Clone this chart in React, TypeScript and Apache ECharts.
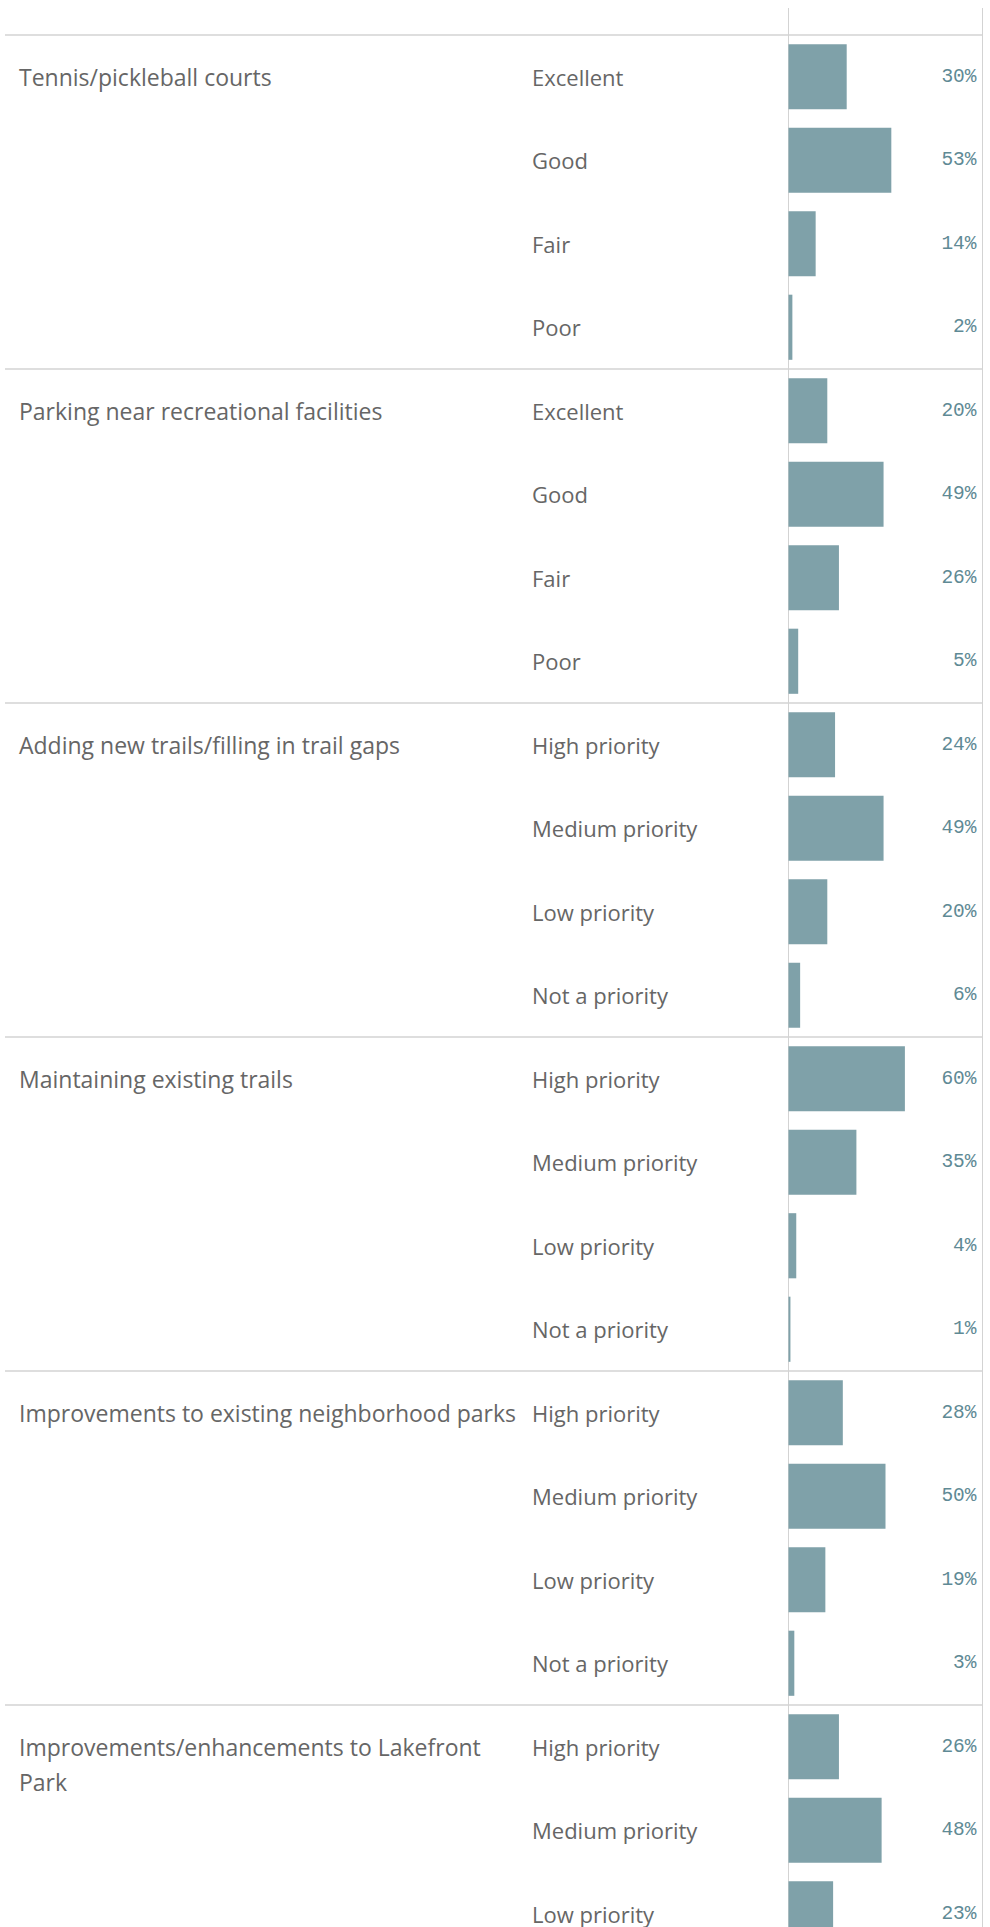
import React, { useEffect, useRef } from "react";
import * as echarts from "echarts";

// ---- data ----
const GROUPS = [
  "Tennis/pickleball courts",
  "Parking near recreational facilities",
  "Adding new trails/filling in trail gaps",
  "Maintaining existing trails",
  "Improvements to existing neighborhood parks",
  "Improvements/enhancements to Lakefront Park",
];
const RATING_LEVELS = ["Excellent", "Good", "Fair", "Poor"];
const PRIORITY_LEVELS = ["High priority", "Medium priority", "Low priority", "Not a priority"];

const TENNIS_VALUES = [30, 53, 14, 2];
const PARKING_VALUES = [20, 49, 26, 5];
const NEW_TRAILS_VALUES = [24, 49, 20, 6];
const MAINTAIN_TRAILS_VALUES = [60, 35, 4, 1];
const NEIGHBORHOOD_PARKS_VALUES = [28, 50, 19, 3];
const LAKEFRONT_PARK_VALUES = [26, 48, 23]; // remaining row is below the visible page

const GROUP_LEVELS = [RATING_LEVELS, RATING_LEVELS, PRIORITY_LEVELS, PRIORITY_LEVELS, PRIORITY_LEVELS, PRIORITY_LEVELS];
const GROUP_VALUES = [
  TENNIS_VALUES,
  PARKING_VALUES,
  NEW_TRAILS_VALUES,
  MAINTAIN_TRAILS_VALUES,
  NEIGHBORHOOD_PARKS_VALUES,
  LAKEFRONT_PARK_VALUES,
];

// ---- layout ----
const W = 990;
const TOP = 35;
const ROW_H = 83.5;
const BAR_LEFT = 788.5;
const RIGHT_EDGE = 982.5;
const TABLE_LEFT = 5;
const GROUP_LABEL_X = 19;
const SUB_LABEL_X = 532;
const HEADER_TOP = 8;
const LINE_COLOR = "#d3d3d3";
const TEXT_COLOR = "#666666";
const BAR_COLOR = "#7fa1a9";
const PCT_COLOR = "#5f8a95";
const FONT = "'Open Sans', sans-serif";
const MONO = "'Liberation Mono', monospace";
const GROUP_FONT_SIZE = 23;
const SUB_FONT_SIZE = 22;
const LINE_H = 35;

type Row = { id: string; group: number; level: string; value: number; first: boolean };
const ROWS: Row[] = [];
GROUP_VALUES.forEach((vals, gi) => {
  vals.forEach((v, j) => {
    ROWS.push({ id: `${gi}-${j}`, group: gi, level: GROUP_LEVELS[gi][j], value: v, first: j === 0 });
  });
});
const GROUP_START = ROWS.map((r, i) => (r.first ? i : -1)).filter((i) => i >= 0);
const GRID_H = ROWS.length * ROW_H;
const CHART_H = Math.ceil(TOP + GRID_H + 5);
const GRID_BOTTOM = CHART_H - TOP - GRID_H;

export default function App() {
  const ref = useRef<HTMLDivElement>(null);
  useEffect(() => {
    if (!ref.current) return;
    const chart = echarts.init(ref.current, null, { renderer: "svg" });
    const rowIds = ROWS.map((r) => r.id);
    const startSet = new Set(GROUP_START);
    chart.setOption({
      animation: false,
      backgroundColor: "#ffffff",
      grid: [
        { left: TABLE_LEFT, right: W - RIGHT_EDGE, top: TOP, bottom: GRID_BOTTOM },
        { left: BAR_LEFT, right: W - RIGHT_EDGE, top: TOP, bottom: GRID_BOTTOM },
      ],
      xAxis: [
        { gridIndex: 0, type: "value", show: false, min: 0, max: 1 },
        { gridIndex: 1, type: "value", show: false, min: 0, max: 100 },
      ],
      yAxis: [
        {
          gridIndex: 0,
          type: "category",
          inverse: true,
          data: rowIds,
          axisLine: { show: false },
          axisTick: { show: false },
          axisLabel: { show: false },
          splitLine: {
            show: true,
            interval: (i: number) => startSet.has(i),
            lineStyle: { color: LINE_COLOR, width: 1.5 },
          },
        },
        {
          gridIndex: 1,
          type: "category",
          inverse: true,
          data: rowIds,
          axisLine: { show: true, onZero: false, lineStyle: { color: LINE_COLOR, width: 1 } },
          axisTick: { show: false },
          splitLine: { show: false },
          axisLabel: {
            interval: 0,
            align: "left",
            margin: BAR_LEFT - SUB_LABEL_X,
            fontFamily: FONT,
            fontSize: SUB_FONT_SIZE,
            color: TEXT_COLOR,
            formatter: (_v: string, i: number) => ROWS[i].level,
          },
        },
        {
          gridIndex: 1,
          type: "category",
          position: "right",
          inverse: true,
          data: rowIds,
          axisLine: { show: true, onZero: false, lineStyle: { color: LINE_COLOR, width: 1 } },
          axisTick: { show: false },
          splitLine: { show: false },
          axisLabel: {
            interval: 0,
            inside: true,
            margin: 6,
            fontFamily: MONO,
            fontSize: 19.5,
            color: PCT_COLOR,
            padding: [2, 0, 0, 0],
            formatter: (_v: string, i: number) => `${ROWS[i].value}%`,
          },
        },
      ],
      series: [
        {
          type: "bar",
          xAxisIndex: 1,
          yAxisIndex: 1,
          data: ROWS.map((r) => r.value),
          barCategoryGap: "22%",
          itemStyle: { color: BAR_COLOR },
          silent: true,
        },
        {
          type: "custom",
          xAxisIndex: 1,
          yAxisIndex: 1,
          clip: false,
          silent: true,
          data: GROUP_START.map((i) => [0, i]),
          renderItem: (params: any, api: any) => {
            const p = api.coord([0, api.value(1)]);
            return {
              type: "text",
              x: p[0] - (BAR_LEFT - GROUP_LABEL_X),
              y: p[1] - LINE_H / 2,
              style: {
                text: GROUPS[params.dataIndex],
                width: 507,
                overflow: "break",
                lineHeight: LINE_H,
                fontFamily: FONT,
                fontSize: GROUP_FONT_SIZE,
                fill: TEXT_COLOR,
                align: "left",
                verticalAlign: "top",
              },
            };
          },
        },
      ],
      graphic: [
        {
          type: "line",
          silent: true,
          shape: { x1: BAR_LEFT, y1: HEADER_TOP, x2: BAR_LEFT, y2: TOP },
          style: { stroke: LINE_COLOR, lineWidth: 1 },
        },
        {
          type: "line",
          silent: true,
          shape: { x1: RIGHT_EDGE, y1: HEADER_TOP, x2: RIGHT_EDGE, y2: TOP },
          style: { stroke: LINE_COLOR, lineWidth: 1 },
        },
      ],
    });
    return () => chart.dispose();
  }, []);
  return (
    <div
      style={{
        position: "fixed",
        left: 0,
        top: 0,
        width: W,
        height: 1927,
        overflow: "hidden",
        background: "#fff",
      }}
    >
      <div ref={ref} style={{ width: W, height: CHART_H }} />
    </div>
  );
}
